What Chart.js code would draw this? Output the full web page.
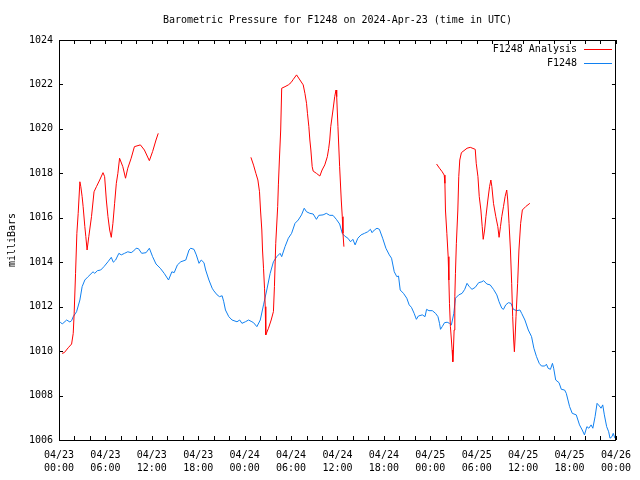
<!DOCTYPE html>
<html>
<head>
<meta charset="utf-8">
<script src="https://cdn.jsdelivr.net/npm/chart.js@4/dist/chart.umd.min.js"></script>
<style>
  html, body { margin: 0; padding: 0; background: #fff; }
  #wrap { width: 640px; height: 480px; }
</style>
</head>
<body>
<div id="wrap"><canvas id="pressureChart" width="640" height="480"></canvas></div>
<script>
'use strict';
// hours since 04/23 00:00 UTC, pressure in milliBars
var titleText = 'Barometric Pressure for F1248 on 2024-Apr-23 (time in UTC)';
var yAxisLabel = 'milliBars';
var seriesNames = ['F1248 Analysis', 'F1248'];
var dayLabels = ['04/23', '04/23', '04/23', '04/23', '04/24', '04/24', '04/24', '04/24', '04/25', '04/25', '04/25', '04/25', '04/26'];
var timeLabels = ['00:00', '06:00', '12:00', '18:00', '00:00', '06:00', '12:00', '18:00', '00:00', '06:00', '12:00', '18:00', '00:00'];
var yTicks = [1006, 1008, 1010, 1012, 1014, 1016, 1018, 1020, 1022, 1024];

var stationHours = [0.13, 0.42, 0.99, 1.41, 1.63, 1.84, 2.27, 2.70, 2.99, 3.34, 3.76, 4.40, 4.62, 4.97, 5.39, 5.81, 6.33, 6.76, 7.02, 7.32,
  7.74, 8.05, 8.47, 8.89, 9.33, 9.66, 9.97, 10.27, 10.69, 11.26, 11.68, 12.10, 12.54, 13.09, 13.60, 14.16, 14.59, 14.89, 15.31, 15.75,
  16.39, 16.81, 17.03, 17.45, 17.75, 18.10, 18.39, 18.74, 18.96, 19.38, 19.80, 20.02, 20.44, 20.75, 21.09, 21.30, 21.52, 21.95, 22.37, 23.01,
  23.36, 23.65, 24.09, 24.51, 24.94, 25.15, 25.58, 26.02, 26.44, 26.86, 27.30, 27.72, 28.15, 28.58, 28.79, 29.22, 29.65, 30.07, 30.51, 30.93,
  31.35, 31.70, 32.00, 32.43, 32.86, 33.28, 33.59, 34.14, 34.56, 35.00, 35.42, 35.85, 36.28, 36.62, 36.92, 37.35, 37.69, 37.99, 38.28, 38.63,
  39.05, 39.49, 39.91, 40.26, 40.47, 40.77, 41.11, 41.42, 41.84, 42.26, 42.70, 42.99, 43.34, 43.67, 43.89, 44.11, 44.53, 44.96, 45.27, 45.56,
  45.91, 46.20, 46.46, 46.97, 47.32, 47.52, 47.83, 48.26, 48.68, 48.99, 49.19, 49.32, 49.54, 49.84, 50.18, 50.48, 50.73, 51.04, 51.25, 51.68,
  52.11, 52.45, 52.75, 53.04, 53.39, 53.81, 54.25, 54.67, 54.89, 55.31, 55.74, 56.17, 56.60, 56.89, 57.24, 57.46, 57.75, 58.10, 58.43, 58.74,
  59.17, 59.59, 59.81, 60.23, 60.67, 61.09, 61.39, 61.73, 62.08, 62.37, 62.80, 63.01, 63.23, 63.53, 63.79, 63.95, 64.21, 64.64, 64.94, 65.36,
  65.58, 66.01, 66.35, 66.87, 67.29, 67.64, 67.93, 68.24, 68.50, 68.79, 69.01, 69.30, 69.56, 69.86, 70.07, 70.29, 70.50, 70.80, 71.06, 71.23,
  71.49, 71.65, 71.87];
var stationValues = [1011.32, 1011.22, 1011.40, 1011.31, 1011.37, 1011.55, 1011.77, 1012.30, 1012.90, 1013.20, 1013.35, 1013.57, 1013.50, 1013.62, 1013.65, 1013.80, 1014.02, 1014.22, 1014.00, 1014.10,
  1014.40, 1014.33, 1014.40, 1014.47, 1014.43, 1014.51, 1014.63, 1014.61, 1014.40, 1014.43, 1014.63, 1014.25, 1013.92, 1013.73, 1013.50, 1013.20, 1013.57, 1013.53, 1013.88, 1014.02,
  1014.10, 1014.55, 1014.63, 1014.58, 1014.33, 1013.95, 1014.10, 1013.98, 1013.65, 1013.20, 1012.83, 1012.71, 1012.53, 1012.45, 1012.49, 1012.22, 1011.85, 1011.55, 1011.40, 1011.32,
  1011.40, 1011.25, 1011.32, 1011.40, 1011.32, 1011.28, 1011.10, 1011.40, 1012.08, 1012.75, 1013.50, 1014.02, 1014.25, 1014.40, 1014.25, 1014.70, 1015.08, 1015.30, 1015.75, 1015.90,
  1016.13, 1016.43, 1016.27, 1016.20, 1016.17, 1015.93, 1016.11, 1016.13, 1016.20, 1016.11, 1016.11, 1015.93, 1015.72, 1015.30, 1015.18, 1015.08, 1014.92, 1015.03, 1014.78, 1015.08,
  1015.23, 1015.30, 1015.37, 1015.48, 1015.33, 1015.45, 1015.53, 1015.48, 1015.08, 1014.63, 1014.33, 1014.18, 1013.57, 1013.35, 1013.38, 1012.75, 1012.60, 1012.38, 1012.08, 1011.97,
  1011.70, 1011.43, 1011.58, 1011.63, 1011.55, 1011.88, 1011.82, 1011.82, 1011.70, 1011.55, 1011.25, 1010.98, 1011.10, 1011.28, 1011.30, 1011.25, 1011.18, 1011.70, 1012.38, 1012.53,
  1012.60, 1012.78, 1013.05, 1012.90, 1012.78, 1012.87, 1013.08, 1013.12, 1013.17, 1013.02, 1012.98, 1012.78, 1012.53, 1012.22, 1011.93, 1011.88, 1012.08, 1012.18, 1012.15, 1011.88,
  1011.82, 1011.85, 1011.70, 1011.40, 1010.95, 1010.65, 1010.13, 1009.75, 1009.45, 1009.33, 1009.33, 1009.41, 1009.23, 1009.18, 1009.45, 1009.23, 1008.70, 1008.58, 1008.28, 1008.25,
  1008.10, 1007.50, 1007.20, 1007.13, 1006.68, 1006.45, 1006.23, 1006.60, 1006.53, 1006.68, 1006.53, 1007.05, 1007.65, 1007.53, 1007.43, 1007.58, 1007.13, 1006.60, 1006.37, 1006.08,
  1006.15, 1006.30, 1006.08];

// analysis series has three runs; null value marks a gap
var analysisHours = [0.39, 0.68, 1.19, 1.63, 1.84, 1.96, 2.14, 2.31, 2.48, 2.70, 2.82, 2.99, 3.12, 3.34, 3.47, 3.63, 3.85, 4.20, 4.53, 4.84,
  5.26, 5.69, 5.90, 6.12, 6.33, 6.55, 6.76, 6.97, 7.19, 7.41, 7.61, 7.83, 8.25, 8.60, 8.89, 9.33, 9.75, 10.52, 11.04, 11.68,
  12.10, 12.54, 12.83,
  18.8,
  24.81, 25.15, 25.45, 25.71, 25.92, 26.05, 26.22, 26.31, 26.44, 26.57, 26.66, 26.73, 27.08, 27.43, 27.72, 27.85, 28.02, 28.27, 28.36, 28.49,
  28.66, 28.79, 29.22, 29.65, 29.99, 30.29, 30.71, 31.15, 31.57, 31.79, 32.00, 32.12, 32.30, 32.43, 32.56, 32.73, 32.86, 33.28, 33.72, 34.01,
  34.36, 34.69, 34.87, 35.00, 35.13, 35.42, 35.64, 35.81, 35.90, 36.06, 36.28, 36.49, 36.62, 36.71, 36.83,
  42.8,
  48.81, 49.19, 49.54, 49.80, 49.89, 49.96, 50.14, 50.31, 50.40, 50.48, 50.60, 50.73, 50.82, 50.91, 50.99, 51.08, 51.17, 51.25, 51.37, 51.56,
  51.68, 51.81, 52.02, 52.75, 53.17, 53.81, 53.94, 54.16, 54.33, 54.54, 54.71, 54.84, 55.02, 55.19, 55.44, 55.66, 55.83, 55.96, 56.17, 56.47,
  56.73, 56.89, 57.07, 57.24, 57.46, 57.67, 57.88, 58.01, 58.18, 58.36, 58.52, 58.65, 58.78, 58.87, 58.95, 59.08, 59.29, 59.46, 59.68, 59.90,
  60.32, 60.87];
var analysisValues = [1009.90, 1009.93, 1010.15, 1010.32, 1010.80, 1011.70, 1013.50, 1015.30, 1016.20, 1017.62, 1017.40, 1016.95, 1016.50, 1015.60, 1015.15, 1014.55, 1015.15, 1016.05, 1017.17, 1017.40,
  1017.70, 1018.03, 1017.85, 1016.80, 1016.05, 1015.45, 1015.12, 1015.75, 1016.65, 1017.55, 1018.00, 1018.68, 1018.30, 1017.78, 1018.23, 1018.68, 1019.20, 1019.28, 1019.05, 1018.57,
  1018.98, 1019.50, 1019.80,
  null,
  1018.72, 1018.37, 1018.00, 1017.70, 1017.17, 1016.35, 1015.45, 1014.55, 1013.73, 1012.83, 1012.00, 1010.73, 1011.03, 1011.40, 1011.78, 1012.90, 1014.85, 1016.50, 1017.48, 1018.60,
  1019.95, 1021.83, 1021.90, 1021.98, 1022.08, 1022.23, 1022.43, 1022.20, 1021.98, 1021.60, 1021.15, 1020.70, 1020.10, 1019.50, 1019.05, 1018.30, 1018.10, 1018.00, 1017.88, 1018.15,
  1018.38, 1018.75, 1019.13, 1019.50, 1020.10, 1020.85, 1021.45, 1021.75, 1021.45, 1020.10, 1018.30, 1016.80, 1016.05, 1015.30, 1014.70,
  null,
  1018.42, 1018.23, 1018.07, 1017.92, 1017.55, 1016.35, 1015.30, 1014.25, 1013.20, 1012.15, 1011.10, 1010.50, 1010.05, 1009.52, 1010.05, 1010.95, 1012.45, 1013.50, 1014.85, 1016.35,
  1017.85, 1018.60, 1018.93, 1019.13, 1019.17, 1019.08, 1018.45, 1017.85, 1016.95, 1016.35, 1015.60, 1015.03, 1015.45, 1016.05, 1016.80, 1017.40, 1017.70, 1017.40, 1016.65, 1016.05,
  1015.60, 1015.12, 1015.60, 1016.05, 1016.50, 1016.95, 1017.25, 1016.80, 1015.75, 1014.55, 1013.05, 1011.55, 1010.50, 1009.97, 1010.50, 1011.55, 1013.05, 1014.55, 1015.75, 1016.35,
  1016.50, 1016.65];

var redColor = 'rgb(255, 0, 0)';
var blueColor = 'rgb(16, 128, 240)';
var monoFont = '"DejaVu Sans Mono", "Liberation Mono", monospace';

function toPoints(xs, ys){
  var pts = [];
  for (var i = 0; i < xs.length; i++){
    pts.push({x: xs[i], y: ys[i]});
  }
  return pts;
}

// frame, inward ticks, title, y label and legend (gnuplot look)
var gnuplotDecor = {
  id: 'gnuplotDecor',
  afterDraw: function(chart){
    var c = chart.ctx;
    var area = chart.chartArea;
    var xs = chart.scales.x;
    var ys = chart.scales.y;
    var tickLen = 4;
    c.save();
    c.strokeStyle = '#000';
    c.lineWidth = 1;
    c.beginPath();
    xs.ticks.forEach(function(t){
      var px = Math.round(xs.getPixelForValue(t.value)) + 0.5;
      c.moveTo(px, area.bottom);
      c.lineTo(px, area.bottom - tickLen);
      c.moveTo(px, area.top);
      c.lineTo(px, area.top + tickLen);
    });
    ys.ticks.forEach(function(t){
      var py = Math.round(ys.getPixelForValue(t.value)) + 0.5;
      c.moveTo(area.left, py);
      c.lineTo(area.left + tickLen, py);
      c.moveTo(area.right, py);
      c.lineTo(area.right - tickLen, py);
    });
    c.stroke();
    c.strokeRect(Math.round(area.left) + 0.5, Math.round(area.top) + 0.5,
      Math.round(area.right - area.left) - 1, Math.round(area.bottom - area.top));

    c.fillStyle = '#000';
    c.font = '10px ' + monoFont;
    c.textBaseline = 'middle';
    c.textAlign = 'center';
    c.fillText(titleText, (area.left + area.right) / 2, 20);

    c.save();
    c.translate(12, (area.top + area.bottom) / 2);
    c.rotate(-Math.PI / 2);
    c.fillText(yAxisLabel, 0, 0);
    c.restore();

    // legend, top right inside the plot
    var colors = [redColor, blueColor];
    c.textAlign = 'right';
    for (var i = 0; i < seriesNames.length; i++){
      var ly = 49 + i * 14;
      c.fillStyle = '#000';
      c.fillText(seriesNames[i], 577, ly);
      c.fillStyle = colors[i];
      c.fillRect(584, ly, 28, 1);
    }
    c.restore();
  }
};

var ctx = document.getElementById('pressureChart').getContext('2d');
var chart = new Chart(ctx, {
  type: 'line',
  data: {
    datasets: [{
      label: seriesNames[0],
      data: toPoints(analysisHours, analysisValues),
      borderColor: redColor,
      borderWidth: 1,
      pointRadius: 0,
      spanGaps: false,
      tension: 0
    }, {
      label: seriesNames[1],
      data: toPoints(stationHours, stationValues),
      borderColor: blueColor,
      borderWidth: 1,
      pointRadius: 0,
      tension: 0
    }]
  },
  options: {
    responsive: false,
    animation: false,
    events: [],
    layout: { padding: { left: 0, right: 20, top: 40, bottom: 0 } },
    plugins: { legend: { display: false }, title: { display: false }, tooltip: { enabled: false } },
    scales: {
      x: {
        type: 'linear',
        min: 0,
        max: 72,
        grid: { display: false, drawTicks: false },
        border: { display: false },
        afterFit: function(scale){ scale.height = 40; },
        ticks: {
          stepSize: 2,
          autoSkip: false,
          maxRotation: 0,
          padding: 9,
          color: '#000',
          font: { family: monoFont, size: 10, lineHeight: 1.3 },
          callback: function(value){
            if (value % 6 !== 0) return '';
            var k = value / 6;
            return [dayLabels[k], timeLabels[k]];
          }
        }
      },
      y: {
        min: yTicks[0],
        max: yTicks[yTicks.length - 1],
        grid: { display: false, drawTicks: false },
        border: { display: false },
        afterFit: function(scale){ scale.width = 59; },
        afterBuildTicks: function(scale){
          scale.ticks = yTicks.map(function(v){ return {value: v}; });
        },
        ticks: {
          padding: 6,
          color: '#000',
          font: { family: monoFont, size: 10 },
          callback: function(value){ return String(value); }
        }
      }
    }
  },
  plugins: [gnuplotDecor]
});
</script>
</body>
</html>
